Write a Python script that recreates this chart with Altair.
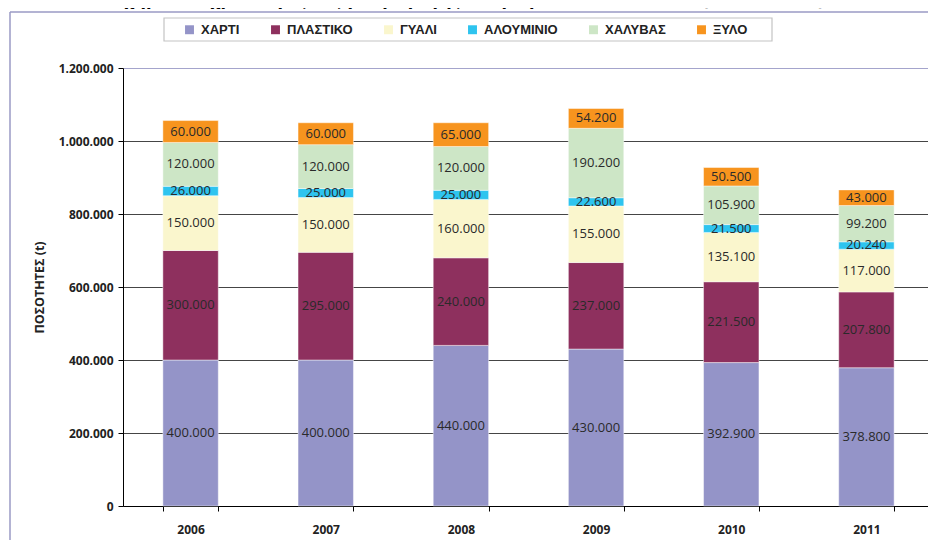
import altair as alt
import pandas as pd

years = ["2006", "2007", "2008", "2009", "2010", "2011"]
materials = ["ΧΑΡΤΙ", "ΠΛΑΣΤΙΚΟ", "ΓΥΑΛΙ", "ΑΛΟΥΜΙΝΙΟ", "ΧΑΛΥΒΑΣ", "ΞΥΛΟ"]
colors = ["#9494C8", "#8E305E", "#FAF6CD", "#2EC4EF", "#CDE6C6", "#F7941E"]

xarti = [400000, 400000, 440000, 430000, 392900, 378800]
plastiko = [300000, 295000, 240000, 237000, 221500, 207800]
gyali = [150000, 150000, 160000, 155000, 135100, 117000]
alouminio = [26000, 25000, 25000, 22600, 21500, 20240]
xalyvas = [120000, 120000, 120000, 190200, 105900, 99200]
xylo = [60000, 60000, 65000, 54200, 50500, 43000]

y_ticks = [0, 200000, 400000, 600000, 800000, 1000000, 1200000]

title_text = "Σχήμα: Διαχρονική εξέλιξη παραγωγής αποβλήτων συσκευασιών (2006 – 2011)"
y_title = "ΠΟΣΟΤΗΤΕΣ (t)"

series = [xarti, plastiko, gyali, alouminio, xalyvas, xylo]
rows = []
for k, (m, vals) in enumerate(zip(materials, series)):
    for y, v in zip(years, vals):
        rows.append({"year": y, "material": m, "value": v, "order": k})
df = pd.DataFrame(rows)

W, H = 805, 438
FMT = "replace(replace(format({v}, ','), ',', '.'), ',', '.')"

base = alt.Chart(df).transform_stack(
    stack="value", groupby=["year"], as_=["y0", "y1"],
    sort=[alt.SortField("order", order="ascending")]
).transform_calculate(
    mid="(datum.y0 + datum.y1) / 2",
    label=FMT.format(v="datum.value"),
)

xenc = alt.X(
    "year:N", sort=years, title=None,
    scale=alt.Scale(range=[0, 811], paddingInner=0.59, paddingOuter=0.295),
    axis=alt.Axis(
        labelAngle=0, domainColor="#000000", tickColor="#000000", tickSize=5,
        tickBand="extent", labelPadding=13, labelFont="Open Sans", labelFontWeight="bold",
        labelFontSize=12, labelColor="#222222", grid=False,
    ),
)

bars = base.mark_bar(stroke="#ffffff", strokeWidth=1, strokeOpacity=0.45).encode(
    x=xenc,
    y=alt.Y(
        "y0:Q", title=y_title,
        scale=alt.Scale(domain=[0, 1200000], nice=False),
        axis=alt.Axis(
            values=y_ticks,
            labelExpr=FMT.format(v="datum.value"),
            domainColor="#000000", tickColor="#000000", tickSize=5,
            gridColor={"condition": {"test": "datum.value === 1200000", "value": "#a4a4cc"},
                       "value": "#454545"},
            gridWidth=1, grid=True,
            labelFont="Open Sans", labelFontWeight="bold", labelFontSize=12,
            labelColor="#222222", labelPadding=5,
            titleFont="Open Sans", titleFontWeight="bold", titleFontSize=12.5,
            titleColor="#222222", titlePadding=12,
        ),
    ),
    y2="y1:Q",
    color=alt.Color(
        "material:N",
        scale=alt.Scale(domain=materials, range=colors),
        sort=materials,
        legend=alt.Legend(
            title=None, orient="none", legendX=60, legendY=-45, direction="horizontal",
            symbolType="square", symbolSize=80, symbolStrokeWidth=0, symbolOpacity=1,
            labelFont="Liberation Sans", labelFontWeight="bold", labelFontSize=13,
            labelColor="#222222", columnPadding=29, labelOffset=5, padding=0,
        ),
    ),
)

texts = base.mark_text(font="Open Sans", fontSize=13, color="#2a2a2a", baseline="middle").encode(
    x=alt.X("year:N", sort=years),
    y=alt.Y("mid:Q"),
    text="label:N",
)

frame_top = alt.Chart(alt.Data(values=[{}])).mark_rule(
    stroke="#9a9ac4", strokeWidth=1.5
).encode(
    x=alt.value(-113), x2=alt.value(W + 20), y=alt.value(-56)
)
frame_left = alt.Chart(alt.Data(values=[{}])).mark_rule(
    stroke="#9a9ac4", strokeWidth=1.5
).encode(
    x=alt.value(-113), y=alt.value(-56), y2=alt.value(H + 60)
)

legend_box = alt.Chart(alt.Data(values=[{}])).mark_rect(
    fill="#ffffff", stroke="#c4c4c4", strokeWidth=1.2
).encode(
    x=alt.value(164 - 123), x2=alt.value(772 - 123), y=alt.value(18 - 68), y2=alt.value(41 - 68)
)

title = alt.Chart(alt.Data(values=[{"t": title_text}])).mark_text(
    font="DejaVu Sans", fontWeight="bold", fontSize=16, color="#000000",
    baseline="alphabetic", align="center"
).encode(
    x=alt.value(469 - 123), y=alt.value(-62), text="t:N"
)

chart = alt.layer(frame_top, frame_left, legend_box, bars, texts, title).properties(
    width=W, height=H,
    padding={"left": 115, "top": 60, "right": 0, "bottom": 34},
    autosize=alt.AutoSizeParams(type="none"),
    background="#ffffff",
).configure_view(stroke=None)

chart.save("out.html", embed_options={"renderer": "svg", "actions": False})
